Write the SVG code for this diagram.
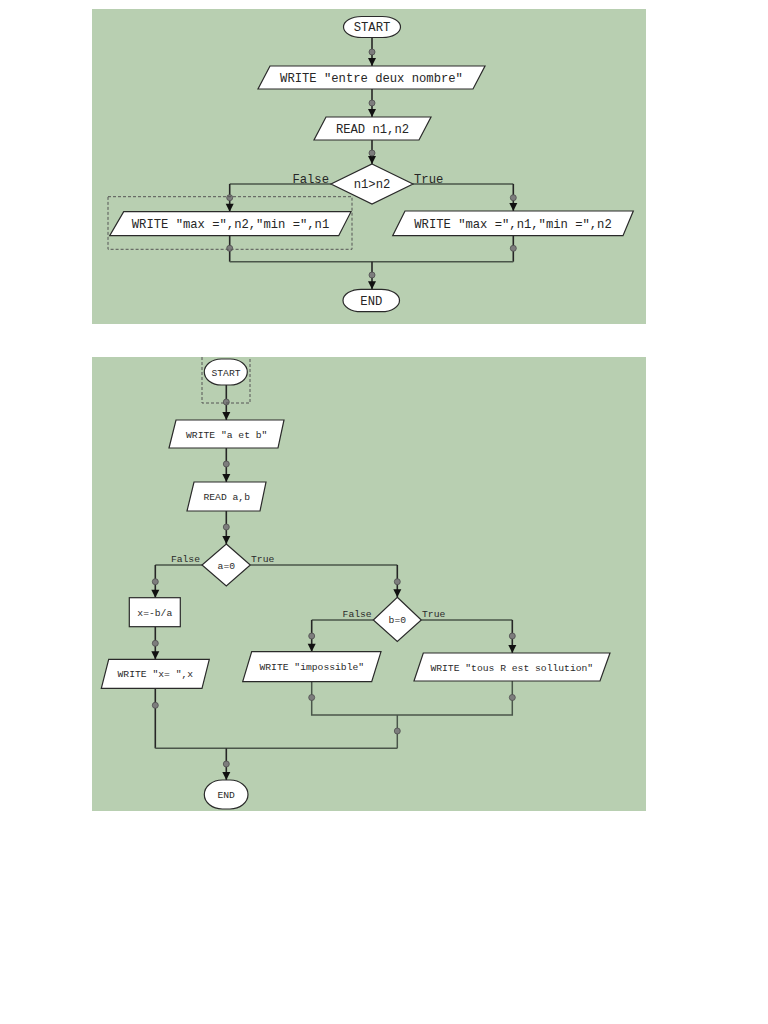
<svg xmlns="http://www.w3.org/2000/svg" xmlns:xlink="http://www.w3.org/1999/xlink" width="768" height="1024" viewBox="0 0 768 1024">
<style>
.panel{fill:#b8cfb1}
.node{fill:#ffffff;stroke:#2a2a2a;stroke-width:1.2}
.v{fill:none;stroke:#262626;stroke-width:1.6}
.h{fill:none;stroke:#4a564a;stroke-width:1.5}
.dash{fill:none;stroke:#555;stroke-width:1;stroke-dasharray:3,2}
.t1{font-family:"Liberation Mono","Courier New",monospace;font-size:12.2px;fill:#262626;text-anchor:middle}
.t2{font-family:"Liberation Mono","Courier New",monospace;font-size:9.7px;fill:#2a2a2a;text-anchor:middle}
.l1{font-family:"Liberation Mono","Courier New",monospace;font-size:12.2px;fill:#262626}
.l2{font-family:"Liberation Mono","Courier New",monospace;font-size:9.7px;fill:#2a2a2a}
.end{text-anchor:end}
</style>
<defs>
<marker id="arr" markerUnits="userSpaceOnUse" markerWidth="10" markerHeight="10" viewBox="0 0 10 10" refX="9" refY="5" orient="auto">
<path d="M1,1 L9,5 L1,9 Z" fill="#111"/>
</marker>
<circle id="dot" r="3" fill="#7d7d7d" stroke="#4e4e4e" stroke-width="0.8"/>
</defs>
<rect width="768" height="1024" fill="#ffffff"/>
<rect class="panel" x="92" y="9" width="554" height="315"/>
<rect class="panel" x="92" y="357" width="554" height="454"/>

<g id="connectors">
<!-- panel 1 -->
<path class="v" d="M372,37 V66" marker-end="url(#arr)"/>
<path class="v" d="M372,89 V117" marker-end="url(#arr)"/>
<path class="v" d="M372,140 V164" marker-end="url(#arr)"/>
<path class="h" d="M331,184 H229.7"/>
<path class="v" d="M229.7,184 V211.7" marker-end="url(#arr)"/>
<path class="h" d="M413,184 H513.3"/>
<path class="v" d="M513.3,184 V211" marker-end="url(#arr)"/>
<path class="v" d="M229.7,235.7 V261.7"/>
<path class="v" d="M513.3,235.7 V261.7"/>
<path class="h" d="M229.7,261.7 H513.3"/>
<path class="v" d="M372,261.7 V289.3" marker-end="url(#arr)"/>
<!-- panel 2 -->
<path class="v" d="M226.3,385 V420" marker-end="url(#arr)"/>
<path class="v" d="M226.3,448 V482" marker-end="url(#arr)"/>
<path class="v" d="M226.3,511 V544" marker-end="url(#arr)"/>
<path class="h" d="M202,565 H155.3"/>
<path class="v" d="M155.3,565 V597.7" marker-end="url(#arr)"/>
<path class="h" d="M250.3,565 H397.3"/>
<path class="v" d="M397.3,565 V597.3" marker-end="url(#arr)"/>
<path class="v" d="M155.3,626.7 V659.3" marker-end="url(#arr)"/>
<path class="h" d="M373.3,620 H311.7"/>
<path class="v" d="M311.7,620 V651.7" marker-end="url(#arr)"/>
<path class="h" d="M421.3,620 H512.3"/>
<path class="v" d="M512.3,620 V653" marker-end="url(#arr)"/>
<path class="h" d="M311.7,681.7 V715 H512.3 V681"/>
<path class="h" d="M397.3,715 V748.3"/>
<path class="v" d="M155.3,688.3 V748.3"/>
<path class="h" d="M155.3,748.3 H397.3"/>
<path class="v" d="M226.3,748.3 V780" marker-end="url(#arr)"/>
<!-- dots -->
<use xlink:href="#dot" x="372" y="52"/>
<use xlink:href="#dot" x="372" y="103"/>
<use xlink:href="#dot" x="372" y="153"/>
<use xlink:href="#dot" x="229.7" y="197.7"/>
<use xlink:href="#dot" x="513.3" y="197.7"/>
<use xlink:href="#dot" x="229.7" y="248.3"/>
<use xlink:href="#dot" x="513.3" y="248.3"/>
<use xlink:href="#dot" x="372" y="275"/>
<use xlink:href="#dot" x="226.3" y="402"/>
<use xlink:href="#dot" x="226.3" y="464"/>
<use xlink:href="#dot" x="226.3" y="527"/>
<use xlink:href="#dot" x="155.3" y="581.7"/>
<use xlink:href="#dot" x="397.3" y="581.7"/>
<use xlink:href="#dot" x="155.3" y="643.3"/>
<use xlink:href="#dot" x="311.7" y="636"/>
<use xlink:href="#dot" x="512.3" y="636"/>
<use xlink:href="#dot" x="311.7" y="697.5"/>
<use xlink:href="#dot" x="512.3" y="697.5"/>
<use xlink:href="#dot" x="155.3" y="705.3"/>
<use xlink:href="#dot" x="397.3" y="731"/>
<use xlink:href="#dot" x="226.3" y="764"/>
<!-- branch labels -->
<text class="l1 end" x="329" y="182.5">False</text>
<text class="l1" x="414" y="182.5">True</text>
<text class="l2 end" x="200" y="562">False</text>
<text class="l2" x="251" y="562">True</text>
<text class="l2 end" x="371.7" y="616.5">False</text>
<text class="l2" x="422" y="616.5">True</text>
</g>

<!-- panel 1 nodes -->
<g id="p1-start">
<rect class="node" x="343.5" y="16.5" width="57" height="21" rx="18" ry="10.5"/>
<text class="t1" x="372" y="31">START</text>
</g>
<g id="p1-write1">
<polygon class="node" points="270,66 485,66 473,89 258,89"/>
<text class="t1" x="371.5" y="81.5">WRITE "entre deux nombre"</text>
</g>
<g id="p1-read">
<polygon class="node" points="326,117 431,117 419,140 314,140"/>
<text class="t1" x="372.5" y="132.5">READ n1,n2</text>
</g>
<g id="p1-cond">
<polygon class="node" points="372,164 413,184 372,204 331,184"/>
<text class="t1" x="372" y="188">n1&gt;n2</text>
</g>
<g id="p1-write-false">
<rect class="dash" x="108" y="196.7" width="244" height="52.6"/>
<polygon class="node" points="123.7,211.7 351,211.7 338.7,235.7 109.7,235.7"/>
<text class="t1" x="230.5" y="227.5">WRITE "max =",n2,"min =",n1</text>
</g>
<g id="p1-write-true">
<polygon class="node" points="405,211 633.3,211 623,235.7 392.7,235.7"/>
<text class="t1" x="513" y="227.5">WRITE "max =",n1,"min =",n2</text>
</g>
<g id="p1-end">
<rect class="node" x="343" y="289.3" width="56.5" height="22.4" rx="18" ry="11.2"/>
<text class="t1" x="371.3" y="304.5">END</text>
</g>

<!-- panel 2 nodes -->
<g id="p2-start">
<path class="dash" d="M202,357 V403 H250 V357"/>
<rect class="node" x="204.3" y="359" width="43" height="26" rx="17" ry="13"/>
<text class="t2" x="226" y="375.5">START</text>
</g>
<g id="p2-write1">
<polygon class="node" points="176,420 284,420 278,448 169,448"/>
<text class="t2" x="226.7" y="437.5">WRITE "a et b"</text>
</g>
<g id="p2-read">
<polygon class="node" points="194,482 266,482 260,511 187,511"/>
<text class="t2" x="226.7" y="500">READ a,b</text>
</g>
<g id="p2-cond-a">
<polygon class="node" points="226.3,544 250.3,565 226.3,586 202,565"/>
<text class="t2" x="226.3" y="568.5">a=0</text>
</g>
<g id="p2-calc">
<rect class="node" x="129.3" y="597.7" width="51" height="29"/>
<text class="t2" x="154.8" y="615.5">x=-b/a</text>
</g>
<g id="p2-write-x">
<polygon class="node" points="108.7,659.3 209.3,659.3 202,688.3 101.3,688.3"/>
<text class="t2" x="155.3" y="677.3">WRITE "x= ",x</text>
</g>
<g id="p2-cond-b">
<polygon class="node" points="397.3,597.3 421.3,620 397.3,641.5 373.3,620"/>
<text class="t2" x="397.3" y="623">b=0</text>
</g>
<g id="p2-write-imp">
<polygon class="node" points="251.7,651.7 381,651.7 371.7,681.7 242.7,681.7"/>
<text class="t2" x="311.8" y="670">WRITE "impossible"</text>
</g>
<g id="p2-write-tous">
<polygon class="node" points="423.3,653 610,653 600,681 414,681"/>
<text class="t2" x="511.8" y="670.5">WRITE "tous R est sollution"</text>
</g>
<g id="p2-end">
<rect class="node" x="204.3" y="780" width="43.7" height="29" rx="18" ry="14.5"/>
<text class="t2" x="226.2" y="798">END</text>
</g>
</svg>
